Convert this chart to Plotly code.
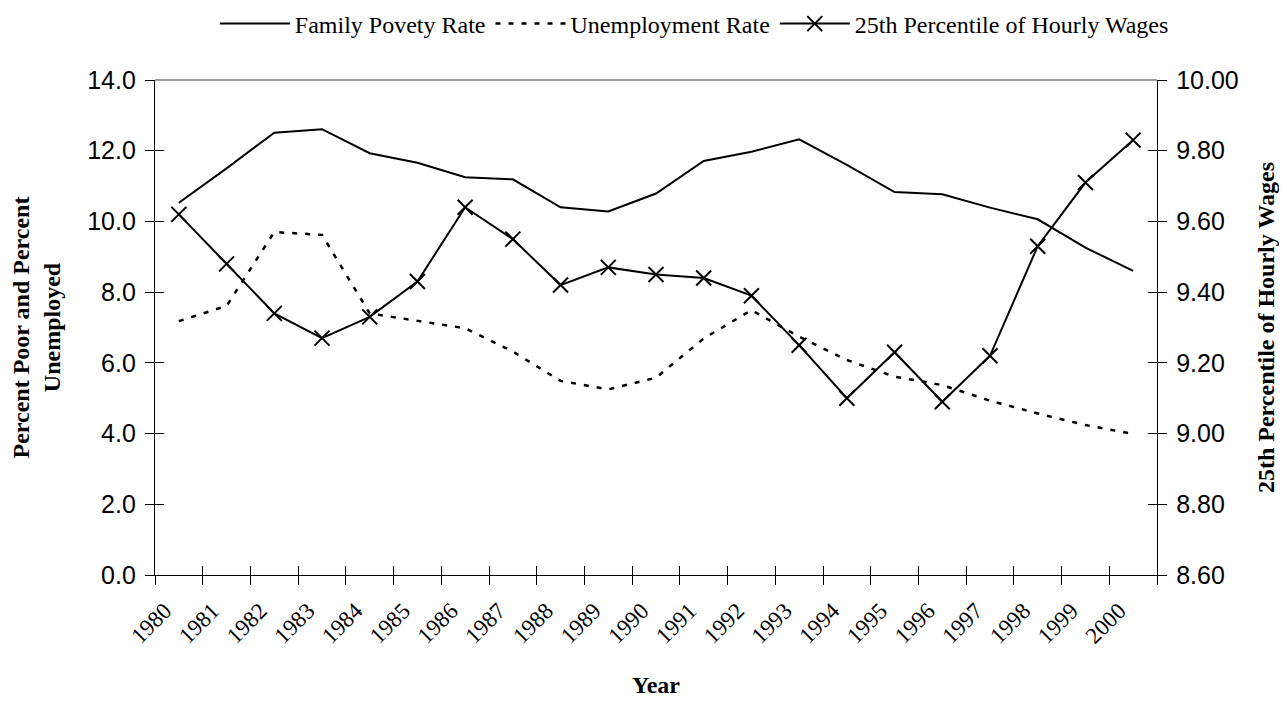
import plotly.graph_objects as go

years = [str(y) for y in range(1980, 2001)]
poverty = [10.53, 11.50, 12.51, 12.61, 11.93, 11.66, 11.25, 11.19, 10.40, 10.28,
           10.79, 11.71, 11.97, 12.32, 11.60, 10.83, 10.77, 10.39, 10.06, 9.26, 8.60]
unemployment = [7.18, 7.61, 9.70, 9.62, 7.40, 7.19, 6.98, 6.32, 5.49, 5.25,
                5.58, 6.69, 7.49, 6.74, 6.08, 5.61, 5.37, 4.93, 4.57, 4.24, 3.99]
wages = [9.62, 9.48, 9.34, 9.27, 9.33, 9.43, 9.64, 9.55, 9.42, 9.47,
         9.45, 9.44, 9.39, 9.25, 9.10, 9.23, 9.09, 9.22, 9.53, 9.71, 9.83]

left_range = [0, 14]
right_range = [8.6, 10.0]
x_range = [-0.5, len(years) - 0.5]

TIMES = "Liberation Serif, Times New Roman, serif"
ARIAL = "Liberation Sans, Arial, sans-serif"

W, H = 1271, 692
ML, MR, MT, MB = 147, 122, 72, 125

fig = go.Figure()
fig.add_trace(go.Scatter(x=years, y=poverty, name="Family Povety Rate", mode="lines",
                         line=dict(color="black", width=2)))
fig.add_trace(go.Scatter(x=years, y=unemployment, name="Unemployment Rate", mode="lines",
                         line=dict(color="black", width=2.5, dash="5px,8px")))
fig.add_trace(go.Scatter(x=years, y=wages, name="25th Percentile of Hourly Wages",
                         mode="lines+markers", yaxis="y2",
                         line=dict(color="black", width=2),
                         marker=dict(symbol="x-thin", size=15, color="black",
                                     line=dict(color="black", width=2))))
# invisible helper traces so the inner half of the crossing tick marks is drawn
fig.add_trace(go.Scatter(x=years, y=poverty, xaxis="x2", yaxis="y3", mode="lines",
                         line=dict(color="rgba(0,0,0,0)"), showlegend=False, hoverinfo="skip"))
fig.add_trace(go.Scatter(x=years, y=wages, yaxis="y4", mode="lines",
                         line=dict(color="rgba(0,0,0,0)"), showlegend=False, hoverinfo="skip"))

tick_common = dict(tickcolor="black", tickwidth=1.3, ticklen=9)

fig.update_layout(
    width=W, height=H,
    margin=dict(l=ML, r=MR, t=MT, b=MB, autoexpand=False),
    paper_bgcolor="white", plot_bgcolor="white",
    showlegend=True,
    legend=dict(orientation="h", x=0.54, xanchor="center", xref="container",
                y=1 - 16 / H, yanchor="middle", yref="container",
                font=dict(family=TIMES, size=24, color="black"),
                itemwidth=70, tracegroupgap=0, bgcolor="rgba(0,0,0,0)"),
    xaxis=dict(type="category", categoryorder="array", categoryarray=years,
               range=x_range, autorange=False,
               tickson="boundaries", ticks="outside", showline=True, linecolor="black",
               linewidth=1.3, showgrid=False, zeroline=False, tickangle=-45,
               ticklabelstandoff=12, ticklabelshift=-14,
               tickfont=dict(family=TIMES, size=23, color="black"),
               title=dict(text="<b>Year</b>", font=dict(family=TIMES, size=24, color="black"),
                          standoff=28),
               **tick_common),
    xaxis2=dict(type="category", categoryorder="array", categoryarray=years,
                range=x_range, autorange=False,
                overlaying="x", anchor="y", side="bottom", tickson="boundaries",
                ticks="inside", showticklabels=False, showline=False, showgrid=False,
                zeroline=False, **tick_common),
    yaxis=dict(range=left_range, autorange=False, dtick=2, tickformat=".1f", ticks="outside",
               showline=True, linecolor="black", linewidth=1.3, showgrid=False,
               zeroline=False, ticklabelstandoff=4,
               tickfont=dict(family=ARIAL, size=25, color="black"),
               title=dict(text="<b>Percent Poor and Percent<br>Unemployed</b>",
                          font=dict(family=TIMES, size=24, color="black"), standoff=20),
               **tick_common),
    yaxis2=dict(range=right_range, autorange=False, dtick=0.2, tickformat=".2f", ticks="outside",
                overlaying="y", side="right", anchor="x",
                showline=True, linecolor="black", linewidth=1.3, showgrid=False,
                zeroline=False, ticklabelstandoff=4,
                tickfont=dict(family=ARIAL, size=25, color="black"),
                title=dict(text="<b>25th Percentile of Hourly Wages</b>",
                           font=dict(family=TIMES, size=24, color="black"), standoff=20),
                **tick_common),
    yaxis3=dict(range=left_range, autorange=False, dtick=2, overlaying="y", side="left",
                anchor="x2", ticks="inside", showticklabels=False, showline=False,
                showgrid=False, zeroline=False, **tick_common),
    yaxis4=dict(range=right_range, autorange=False, dtick=0.2, overlaying="y", side="right",
                anchor="x", ticks="inside", showticklabels=False, showline=False,
                showgrid=False, zeroline=False, **tick_common),
    shapes=[dict(type="line", xref="paper", yref="paper", x0=0, x1=1, y0=1, y1=1,
                 line=dict(color="#808080", width=1.5))],
)

fig.write_html("out.html")
